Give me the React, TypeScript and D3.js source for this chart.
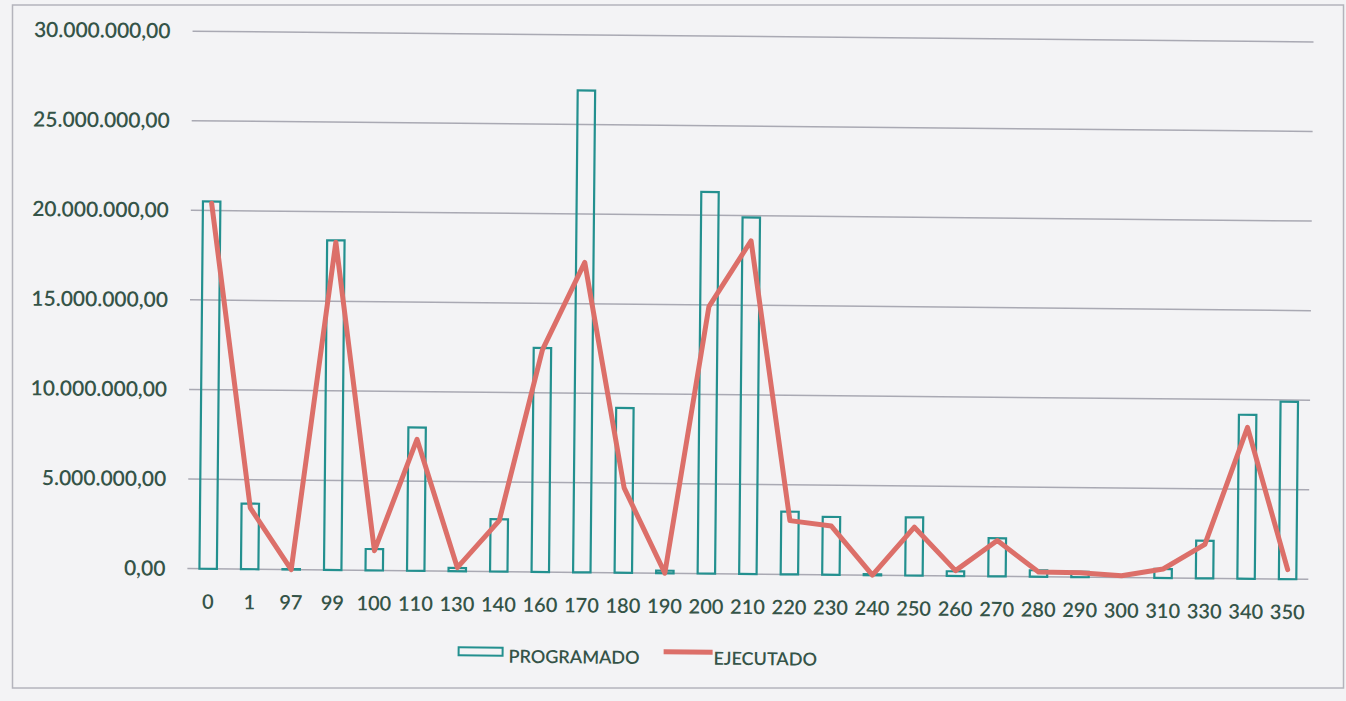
import React, { useEffect, useRef } from 'react';
import * as d3 from 'd3';

// códigos de partida
const categories = ['0', '1', '97', '99', '100', '110', '130', '140', '160', '170', '180', '190', '200', '210', '220', '230', '240', '250', '260', '270', '280', '290', '300', '310', '330', '340', '350'];

// montos en Bs
const programado = [20500000, 3660000, 30000, 18400000, 1190000, 8000000, 180000, 2920000, 12500000, 26900000, 9200000, 140000, 21300000, 19900000, 3500000, 3230000, 50000, 3250000, 260000, 2130000, 360000, 300000, 0, 500000, 2100000, 9150000, 9900000];
const ejecutado = [20400000, 3430000, 0, 18300000, 1100000, 7340000, 200000, 2850000, 12400000, 17300000, 4740000, 0, 14900000, 18600000, 3000000, 2720000, 0, 2700000, 300000, 2000000, 270000, 250000, 100000, 500000, 1900000, 8450000, 530000];

const yTicks = [0, 5000000, 10000000, 15000000, 20000000, 25000000, 30000000];
const legendLabels = ['PROGRAMADO', 'EJECUTADO'];

export default function App() {
  const ref = useRef<HTMLDivElement>(null);

  useEffect(() => {
    if (!ref.current) return;
    document.body.style.margin = '0';

    const width = 1346;
    const height = 701;
    const textColor = '#355448';
    const font = 'Lato, "Open Sans", sans-serif';

    d3.select(ref.current).selectAll('*').remove();

    const svg = d3.select(ref.current)
      .append('svg')
      .attr('width', width)
      .attr('height', height)
      .style('display', 'block');

    svg.append('rect')
      .attr('width', width)
      .attr('height', height)
      .attr('fill', '#f3f3f5');

    // marco
    svg.append('rect')
      .attr('x', 12.5)
      .attr('y', 5)
      .attr('width', 1331)
      .attr('height', 683)
      .attr('fill', 'none')
      .attr('stroke', '#b4b4bc')
      .attr('stroke-width', 1.5);

    // la hoja escaneada está un poco girada
    const g = svg.append('g').attr('transform', 'rotate(0.55, 750, 300)');

    const x = d3.scaleBand<string>()
      .domain(categories)
      .range([190, 1311])
      .paddingInner(0.58)
      .paddingOuter(0.29);

    const y = d3.scaleLinear()
      .domain([0, 30000000])
      .range([574, 36.5]);

    const locale = d3.formatLocale({ decimal: ',', thousands: '.', grouping: [3], currency: ['', ''] });
    const fmt = locale.format(',.2f');

    // grilla
    g.selectAll('line.grid')
      .data(yTicks)
      .enter()
      .append('line')
      .attr('class', 'grid')
      .attr('x1', 190)
      .attr('x2', 1311)
      .attr('y1', d => y(d))
      .attr('y2', d => y(d))
      .attr('stroke', '#a9a9b3')
      .attr('stroke-width', 1.5);

    g.selectAll('text.ylab')
      .data(yTicks)
      .enter()
      .append('text')
      .attr('class', 'ylab')
      .attr('x', 168)
      .attr('y', d => y(d))
      .attr('dy', '0.35em')
      .attr('text-anchor', 'end')
      .attr('font-family', font)
      .attr('font-size', 21)
      .attr('font-weight', 600)
      .attr('fill', textColor)
      .text(d => fmt(d));

    // barras programado
    g.selectAll('rect.bar')
      .data(programado)
      .enter()
      .append('rect')
      .attr('class', 'bar')
      .attr('x', (d, i) => x(categories[i])!)
      .attr('width', x.bandwidth())
      .attr('y', d => y(d))
      .attr('height', d => y(0) - y(d))
      .attr('fill', 'none')
      .attr('stroke', '#23908f')
      .attr('stroke-width', 2.2);

    // línea ejecutado
    const line = d3.line<number>()
      .x((d, i) => x(categories[i])! + x.bandwidth() / 2)
      .y(d => y(d));

    g.append('path')
      .datum(ejecutado)
      .attr('d', line)
      .attr('fill', 'none')
      .attr('stroke', '#dc6f69')
      .attr('stroke-width', 5)
      .attr('stroke-linejoin', 'round')
      .attr('stroke-linecap', 'round');

    // etiquetas eje x
    g.selectAll('text.xlab')
      .data(categories)
      .enter()
      .append('text')
      .attr('class', 'xlab')
      .attr('x', d => x(d)! + x.bandwidth() / 2)
      .attr('y', y(0) + 40)
      .attr('text-anchor', 'middle')
      .attr('font-family', font)
      .attr('font-size', 20)
      .attr('font-weight', 600)
      .attr('fill', textColor)
      .text(d => d);

    // leyenda
    const legend = g.append('g').attr('transform', 'translate(462, 654)');
    legend.append('rect')
      .attr('x', 0)
      .attr('y', -4)
      .attr('width', 44)
      .attr('height', 8)
      .attr('fill', 'none')
      .attr('stroke', '#23908f')
      .attr('stroke-width', 2);
    legend.append('text')
      .attr('x', 50)
      .attr('y', 11)
      .attr('font-family', font)
      .attr('font-size', 18)
      .attr('font-weight', 600)
      .attr('fill', textColor)
      .text(legendLabels[0]);
    legend.append('line')
      .attr('x1', 205)
      .attr('x2', 254)
      .attr('y1', -1.5)
      .attr('y2', -1.5)
      .attr('stroke', '#dc6f69')
      .attr('stroke-width', 5);
    legend.append('text')
      .attr('x', 255)
      .attr('y', 11)
      .attr('font-family', font)
      .attr('font-size', 18)
      .attr('font-weight', 600)
      .attr('fill', textColor)
      .text(legendLabels[1]);
  }, []);

  return <div ref={ref} />;
}
